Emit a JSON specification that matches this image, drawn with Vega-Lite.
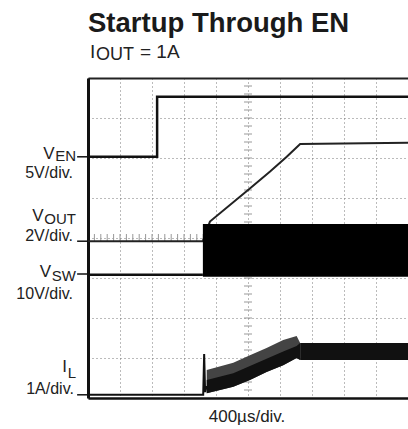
{
  "$schema": "https://vega.github.io/schema/vega-lite/v6.json",
  "width": 320,
  "height": 320,
  "autosize": {"type": "none"},
  "padding": {"left": 88, "top": 78, "right": 0, "bottom": 31},
  "background": "white",
  "config": {"view": {"stroke": null}, "font": "Liberation Sans"},
  "datasets": {
    "ven": [{"x": 0, "y": 6.03}, {"x": 2.16, "y": 6.03}, {"x": 2.16, "y": 7.53}, {"x": 10, "y": 7.53}],
    "vout": [{"x": 0, "y": 3.92}, {"x": 3.59, "y": 3.92}, {"x": 3.81, "y": 4.41}, {"x": 5.03, "y": 5.22}, {"x": 5.69, "y": 5.66}, {"x": 6.21, "y": 6.03}, {"x": 6.63, "y": 6.35}, {"x": 10, "y": 6.38}],
    "vsw": [{"x": 0, "y": 3.08}, {"x": 3.59, "y": 3.08}],
    "block": [{"x": 3.59, "x2": 10, "y": 3.03, "y2": 4.35}],
    "il": [{"x": 0, "y": 0.08}, {"x": 3.6, "y": 0.08}, {"x": 3.63, "y": 1.1}, {"x": 3.66, "y": 0.15}, {"x": 3.71, "y": 0.3}],
    "ilramp": [{"x": 3.71, "lo": 0.12, "hi": 0.7}, {"x": 4.54, "lo": 0.28, "hi": 0.88}, {"x": 5.06, "lo": 0.45, "hi": 1.07}, {"x": 5.58, "lo": 0.65, "hi": 1.25}, {"x": 6.1, "lo": 0.82, "hi": 1.45}, {"x": 6.52, "lo": 1.0, "hi": 1.55}, {"x": 6.63, "lo": 0.95, "hi": 1.375}],
    "ilcore": [{"x": 3.71, "lo": 0.12, "hi": 0.45}, {"x": 4.54, "lo": 0.28, "hi": 0.62}, {"x": 5.06, "lo": 0.45, "hi": 0.8}, {"x": 5.58, "lo": 0.65, "hi": 0.98}, {"x": 6.1, "lo": 0.82, "hi": 1.16}, {"x": 6.52, "lo": 1.0, "hi": 1.3}, {"x": 6.63, "lo": 0.95, "hi": 1.375}],
    "ilflat": [{"x": 6.63, "lo": 0.95, "hi": 1.375}, {"x": 10, "lo": 0.95, "hi": 1.375}],
    "levels": [{"y": 6.03}, {"y": 3.92}, {"y": 3.1}, {"y": 0.08}],
    "xminor": [{"x": 0.2}, {"x": 0.4}, {"x": 0.6}, {"x": 0.8}, {"x": 1}, {"x": 1.2}, {"x": 1.4}, {"x": 1.6}, {"x": 1.8}, {"x": 2}, {"x": 2.2}, {"x": 2.4}, {"x": 2.6}, {"x": 2.8}, {"x": 3}, {"x": 3.2}, {"x": 3.4}, {"x": 3.6}, {"x": 3.8}, {"x": 4}, {"x": 4.2}, {"x": 4.4}, {"x": 4.6}, {"x": 4.8}, {"x": 5}, {"x": 5.2}, {"x": 5.4}, {"x": 5.6}, {"x": 5.8}, {"x": 6}, {"x": 6.2}, {"x": 6.4}, {"x": 6.6}, {"x": 6.8}, {"x": 7}, {"x": 7.2}, {"x": 7.4}, {"x": 7.6}, {"x": 7.8}, {"x": 8}, {"x": 8.2}, {"x": 8.4}, {"x": 8.6}, {"x": 8.8}, {"x": 9}, {"x": 9.2}, {"x": 9.4}, {"x": 9.6}, {"x": 9.8}],
    "yminor": [{"y": 0.2}, {"y": 0.4}, {"y": 0.6}, {"y": 0.8}, {"y": 1}, {"y": 1.2}, {"y": 1.4}, {"y": 1.6}, {"y": 1.8}, {"y": 2}, {"y": 2.2}, {"y": 2.4}, {"y": 2.6}, {"y": 2.8}, {"y": 3}, {"y": 3.2}, {"y": 3.4}, {"y": 3.6}, {"y": 3.8}, {"y": 4}, {"y": 4.2}, {"y": 4.4}, {"y": 4.6}, {"y": 4.8}, {"y": 5}, {"y": 5.2}, {"y": 5.4}, {"y": 5.6}, {"y": 5.8}, {"y": 6}, {"y": 6.2}, {"y": 6.4}, {"y": 6.6}, {"y": 6.8}, {"y": 7}, {"y": 7.2}, {"y": 7.4}, {"y": 7.6}, {"y": 7.8}],
    "labmain": [{"x": -1.047, "y": 5.975, "t": "V"}, {"x": -1.39, "y": 4.425, "t": "V"}, {"x": -1.156, "y": 3.025, "t": "V"}, {"x": -0.656, "y": 0.65, "t": "I"}],
    "labsub": [{"x": -0.375, "y": 5.925, "t": "EN"}, {"x": -0.375, "y": 4.35, "t": "OUT"}, {"x": -0.375, "y": 2.925, "t": "SW"}, {"x": -0.375, "y": 0.5, "t": "L"}],
    "labdiv": [{"x": -0.47, "y": 5.5, "t": "5V/div."}, {"x": -0.47, "y": 3.925, "t": "2V/div."}, {"x": -0.47, "y": 2.475, "t": "10V/div."}, {"x": -0.44, "y": 0.1, "t": "1A/div."}],
    "title": [{"x": 0, "y": 9.15, "t": "Startup Through EN"}],
    "subI": [{"x": 0.0625, "y": 8.51, "t": "I"}, {"x": 1.625, "y": 8.51, "t": "= 1A"}],
    "subOUT": [{"x": 0.25, "y": 8.45, "t": "OUT"}],
    "xlab": [{"x": 4.97, "y": -0.6, "t": "400µs/div."}]
  },
  "layer": [
    {
      "data": {"name": "ven"},
      "mark": {"type": "line", "color": "#111", "strokeWidth": 2.5},
      "encoding": {
        "x": {"field": "x", "type": "quantitative", "scale": {"domain": [0, 10], "nice": false, "zero": false},
              "axis": {"orient": "bottom", "values": [0,1,2,3,4,5,6,7,8,9,10], "grid": true, "gridDash": [1, 3], "gridColor": "#777", "gridWidth": 1, "labels": false, "ticks": false, "domain": true, "domainColor": "#111", "domainWidth": 2.5, "title": null}},
        "y": {"field": "y", "type": "quantitative", "scale": {"domain": [0, 8], "nice": false, "zero": false},
              "axis": {"orient": "left", "values": [0,1,2,3,4,5,6,7,8], "grid": true, "gridDash": [1, 3], "gridColor": "#777", "gridWidth": 1, "labels": false, "ticks": false, "domain": true, "domainColor": "#111", "domainWidth": 3, "title": null}}
      }
    },
    {
      "data": {"name": "xminor"},
      "mark": {"type": "rule", "color": "#999", "strokeWidth": 1},
      "encoding": {
        "x": {"field": "x", "type": "quantitative", "scale": {"domain": [0, 10], "nice": false, "zero": false}, "axis": null},
        "y": {"datum": 3.9, "type": "quantitative", "scale": {"domain": [0, 8], "nice": false, "zero": false}, "axis": null},
        "y2": {"datum": 4.1}
      }
    },
    {
      "data": {"name": "yminor"},
      "mark": {"type": "rule", "color": "#999", "strokeWidth": 1},
      "encoding": {
        "y": {"field": "y", "type": "quantitative", "scale": {"domain": [0, 8], "nice": false, "zero": false}, "axis": null},
        "x": {"datum": 4.875, "type": "quantitative", "scale": {"domain": [0, 10], "nice": false, "zero": false}, "axis": null},
        "x2": {"datum": 5.125}
      }
    },
    {
      "data": {"name": "vout"},
      "mark": {"type": "line", "color": "#222", "strokeWidth": 2},
      "encoding": {
        "x": {"field": "x", "type": "quantitative", "scale": {"domain": [0, 10], "nice": false, "zero": false}, "axis": null},
        "y": {"field": "y", "type": "quantitative", "scale": {"domain": [0, 8], "nice": false, "zero": false}, "axis": null}
      }
    },
    {
      "data": {"name": "vsw"},
      "mark": {"type": "line", "color": "#111", "strokeWidth": 2.5},
      "encoding": {
        "x": {"field": "x", "type": "quantitative", "scale": {"domain": [0, 10], "nice": false, "zero": false},
              "axis": {"orient": "top", "grid": false, "labels": false, "ticks": false, "domain": true, "domainColor": "#222", "domainWidth": 2, "title": null}},
        "y": {"field": "y", "type": "quantitative", "scale": {"domain": [0, 8], "nice": false, "zero": false}, "axis": null}
      }
    },
    {
      "data": {"name": "block"},
      "mark": {"type": "rect", "color": "#000"},
      "encoding": {
        "x": {"field": "x", "type": "quantitative", "scale": {"domain": [0, 10], "nice": false, "zero": false}, "axis": null},
        "x2": {"field": "x2"},
        "y": {"field": "y", "type": "quantitative", "scale": {"domain": [0, 8], "nice": false, "zero": false}, "axis": null},
        "y2": {"field": "y2"}
      }
    },
    {
      "data": {"name": "ilramp"},
      "mark": {"type": "area", "color": "#444", "opacity": 1},
      "encoding": {
        "x": {"field": "x", "type": "quantitative", "scale": {"domain": [0, 10], "nice": false, "zero": false}, "axis": null},
        "y": {"field": "hi", "type": "quantitative", "scale": {"domain": [0, 8], "nice": false, "zero": false}, "axis": null},
        "y2": {"field": "lo"}
      }
    },
    {
      "data": {"name": "ilcore"},
      "mark": {"type": "area", "color": "#111", "opacity": 1},
      "encoding": {
        "x": {"field": "x", "type": "quantitative", "scale": {"domain": [0, 10], "nice": false, "zero": false}, "axis": null},
        "y": {"field": "hi", "type": "quantitative", "scale": {"domain": [0, 8], "nice": false, "zero": false}, "axis": null},
        "y2": {"field": "lo"}
      }
    },
    {
      "data": {"name": "ilflat"},
      "mark": {"type": "area", "color": "#111", "opacity": 1},
      "encoding": {
        "x": {"field": "x", "type": "quantitative", "scale": {"domain": [0, 10], "nice": false, "zero": false}, "axis": null},
        "y": {"field": "hi", "type": "quantitative", "scale": {"domain": [0, 8], "nice": false, "zero": false}, "axis": null},
        "y2": {"field": "lo"}
      }
    },
    {
      "data": {"name": "il"},
      "mark": {"type": "line", "color": "#111", "strokeWidth": 2},
      "encoding": {
        "x": {"field": "x", "type": "quantitative", "scale": {"domain": [0, 10], "nice": false, "zero": false}, "axis": null},
        "y": {"field": "y", "type": "quantitative", "scale": {"domain": [0, 8], "nice": false, "zero": false}, "axis": null}
      }
    },
    {
      "data": {"name": "levels"},
      "mark": {"type": "rule", "color": "#111", "strokeWidth": 1.5, "clip": false},
      "encoding": {
        "x": {"datum": -0.34, "type": "quantitative", "scale": {"domain": [0, 10], "nice": false, "zero": false}, "axis": null},
        "x2": {"datum": 0},
        "y": {"field": "y", "type": "quantitative", "scale": {"domain": [0, 8], "nice": false, "zero": false}, "axis": null}
      }
    },
    {
      "data": {"name": "labmain"},
      "mark": {"type": "text", "align": "right", "baseline": "alphabetic", "fontSize": 17, "color": "#222"},
      "encoding": {
        "x": {"field": "x", "type": "quantitative", "scale": {"domain": [0, 10], "nice": false, "zero": false}, "axis": null},
        "y": {"field": "y", "type": "quantitative", "scale": {"domain": [0, 8], "nice": false, "zero": false}, "axis": null},
        "text": {"field": "t"}
      }
    },
    {
      "data": {"name": "labsub"},
      "mark": {"type": "text", "align": "right", "baseline": "alphabetic", "fontSize": 15, "color": "#222"},
      "encoding": {
        "x": {"field": "x", "type": "quantitative", "scale": {"domain": [0, 10], "nice": false, "zero": false}, "axis": null},
        "y": {"field": "y", "type": "quantitative", "scale": {"domain": [0, 8], "nice": false, "zero": false}, "axis": null},
        "text": {"field": "t"}
      }
    },
    {
      "data": {"name": "labdiv"},
      "mark": {"type": "text", "align": "right", "baseline": "alphabetic", "fontSize": 16, "color": "#222"},
      "encoding": {
        "x": {"field": "x", "type": "quantitative", "scale": {"domain": [0, 10], "nice": false, "zero": false}, "axis": null},
        "y": {"field": "y", "type": "quantitative", "scale": {"domain": [0, 8], "nice": false, "zero": false}, "axis": null},
        "text": {"field": "t"}
      }
    },
    {
      "data": {"name": "title"},
      "mark": {"type": "text", "align": "left", "baseline": "alphabetic", "fontSize": 27.5, "fontWeight": "bold", "color": "#1a1a1a"},
      "encoding": {
        "x": {"field": "x", "type": "quantitative", "scale": {"domain": [0, 10], "nice": false, "zero": false}, "axis": null},
        "y": {"field": "y", "type": "quantitative", "scale": {"domain": [0, 8], "nice": false, "zero": false}, "axis": null},
        "text": {"field": "t"}
      }
    },
    {
      "data": {"name": "subI"},
      "mark": {"type": "text", "align": "left", "baseline": "alphabetic", "fontSize": 19, "color": "#222"},
      "encoding": {
        "x": {"field": "x", "type": "quantitative", "scale": {"domain": [0, 10], "nice": false, "zero": false}, "axis": null},
        "y": {"field": "y", "type": "quantitative", "scale": {"domain": [0, 8], "nice": false, "zero": false}, "axis": null},
        "text": {"field": "t"}
      }
    },
    {
      "data": {"name": "subOUT"},
      "mark": {"type": "text", "align": "left", "baseline": "alphabetic", "fontSize": 18, "color": "#222"},
      "encoding": {
        "x": {"field": "x", "type": "quantitative", "scale": {"domain": [0, 10], "nice": false, "zero": false}, "axis": null},
        "y": {"field": "y", "type": "quantitative", "scale": {"domain": [0, 8], "nice": false, "zero": false}, "axis": null},
        "text": {"field": "t"}
      }
    },
    {
      "data": {"name": "xlab"},
      "mark": {"type": "text", "align": "center", "baseline": "alphabetic", "fontSize": 17, "color": "#222"},
      "encoding": {
        "x": {"field": "x", "type": "quantitative", "scale": {"domain": [0, 10], "nice": false, "zero": false}, "axis": null},
        "y": {"field": "y", "type": "quantitative", "scale": {"domain": [0, 8], "nice": false, "zero": false}, "axis": null},
        "text": {"field": "t"}
      }
    }
  ],
  "resolve": {"axis": {"x": "independent", "y": "independent"}}
}
